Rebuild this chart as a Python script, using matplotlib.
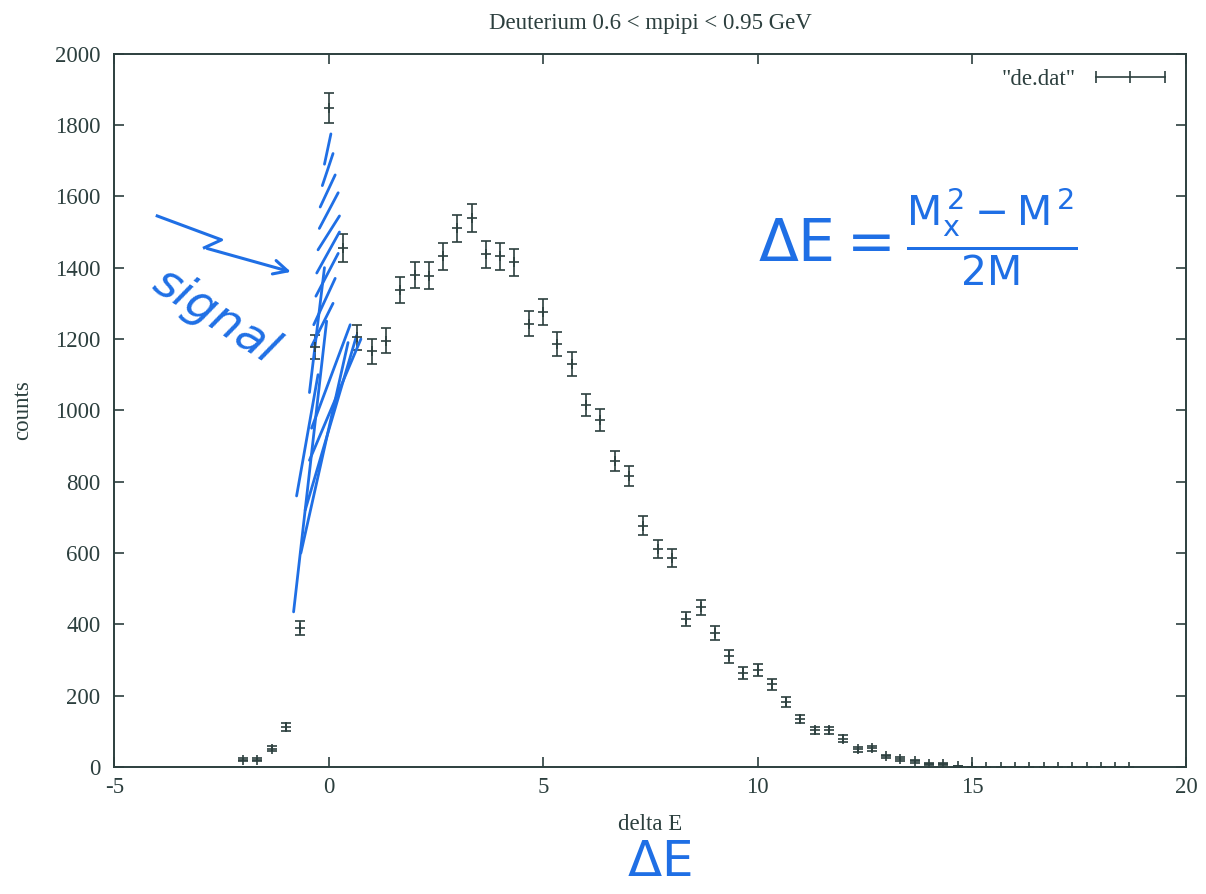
import numpy as np
import matplotlib.pyplot as plt
from matplotlib.lines import Line2D

# ============================================================
# Data read from "de.dat" (bin centre, counts, error)
# ============================================================
delta_e = [-2.00, -1.67, -1.33, -1.00, -0.67, -0.33, 0.00, 0.33, 0.67, 1.00,
           1.33, 1.67, 2.00, 2.33, 2.67, 3.00, 3.33, 3.67, 4.00, 4.33,
           4.67, 5.00, 5.33, 5.67, 6.00, 6.33, 6.67, 7.00, 7.33, 7.67,
           8.00, 8.33, 8.67, 9.00, 9.33, 9.67, 10.00, 10.33, 10.67, 11.00,
           11.33, 11.67, 12.00, 12.33, 12.67, 13.00, 13.33, 13.67, 14.00, 14.33,
           14.67, 15.00, 15.33, 15.67, 16.00, 16.33, 16.67, 17.00, 17.33, 17.67,
           18.00, 18.33, 18.67]
counts = [20, 20, 52, 112, 390, 1178, 1848, 1455, 1205, 1165,
          1195, 1338, 1380, 1378, 1432, 1510, 1540, 1437, 1432, 1415,
          1243, 1275, 1186, 1130, 1015, 972, 858, 816, 677, 611,
          586, 415, 448, 376, 310, 264, 272, 232, 182, 135,
          103, 103, 80, 50, 53, 30, 22, 16, 8, 8,
          2, 0, 0, 0, 0, 0, 0, 0, 0, 0,
          0, 0, 0]
errors = [4, 4, 7, 11, 20, 34, 43, 38, 35, 34,
          35, 37, 37, 37, 38, 39, 39, 38, 38, 38,
          35, 36, 34, 34, 32, 31, 29, 29, 26, 25,
          24, 20, 21, 19, 18, 16, 16, 15, 13, 12,
          10, 10, 9, 7, 7, 5, 5, 4, 3, 3,
          1, 0, 0, 0, 0, 0, 0, 0, 0, 0,
          0, 0, 0]

# Hand-drawn annotations (data coordinates)
hatch_strokes = [(-0.10, 1690, 0.05, 1775), (-0.15, 1630, 0.10, 1720),
                 (-0.20, 1570, 0.15, 1660), (-0.22, 1510, 0.22, 1610),
                 (-0.25, 1450, 0.25, 1545), (-0.28, 1385, 0.25, 1500),
                 (-0.30, 1320, 0.22, 1440), (-0.35, 1240, 0.15, 1370),
                 (-0.40, 1180, 0.10, 1300), (-0.82, 435, -0.05, 1250),
                 (-0.65, 600, 0.45, 1190), (-0.75, 760, -0.25, 1100),
                 (-0.55, 720, 0.65, 1210), (-0.45, 860, 0.75, 1200),
                 (-0.40, 950, 0.50, 1240), (-0.45, 1050, -0.10, 1400)]
arrow_x = [-4.0, -2.5, -2.9]
arrow_y = [1545, 1478, 1456]
arrow_tip = (-0.82, 1386)

ink = '#2c3f3e'
pen = '#1f6fe5'
fs = 16.5

plt.rcParams['font.family'] = ['Liberation Serif', 'DejaVu Serif']
plt.rcParams['mathtext.fontset'] = 'dejavusans'
plt.rcParams['axes.unicode_minus'] = False

fig = plt.figure(figsize=(12.06, 8.94), dpi=100)
ax = fig.add_axes([0.0948, 0.142, 0.889, 0.798])

ax.errorbar(delta_e, counts, yerr=errors, fmt='+', color=ink, ms=7, mew=1.2,
            elinewidth=1.2, capsize=3.5, capthick=1.2)

# ============================================================
# Axes formatting (gnuplot look)
# ============================================================
ax.set_xlim(-5, 20)
ax.set_ylim(0, 2000)
ax.set_xticks([-5, 0, 5, 10, 15, 20])
ax.set_yticks(np.arange(0, 2001, 200))
ax.tick_params(direction='in', length=7, width=1.2, top=True, right=True,
               labelsize=fs, colors=ink)
ax.tick_params(axis='y', pad=10)
ax.tick_params(axis='x', pad=7)
for sp in ax.spines.values():
    sp.set_color(ink)
    sp.set_linewidth(1.4)

ax.set_xlabel('delta E', fontsize=fs, color=ink, labelpad=12)
ax.set_ylabel('counts', fontsize=fs, color=ink, labelpad=16)
ax.set_title('Deuterium 0.6 < mpipi < 0.95 GeV', fontsize=fs, color=ink, pad=18)

handle = Line2D([], [], color=ink, lw=1.2, marker='|', ms=9, mew=1.2)
ax.legend([handle], ['"de.dat"'], loc='upper right', frameon=False, fontsize=fs,
          markerfirst=False, numpoints=3, handlelength=3.6, handletextpad=0.6,
          labelcolor=ink, borderaxespad=0.25)

# ============================================================
# Handwritten annotations
# ============================================================
for x0, y0, x1, y1 in hatch_strokes:
    ax.plot([x0, x1], [y0, y1], color=pen, lw=2.0, solid_capstyle='round')
ax.plot(arrow_x, arrow_y, color=pen, lw=2.2)
ax.annotate('', xy=arrow_tip, xytext=(arrow_x[-1], arrow_y[-1]),
            arrowprops=dict(arrowstyle='->', color=pen, lw=2.2, mutation_scale=25))
ax.text(-2.65, 1265, 'signal', color=pen, fontsize=34, rotation=-33,
        family='DejaVu Sans', style='italic', ha='center', va='center')
ax.text(10.0, 1485, r'$\mathrm{\Delta E} = \frac{\mathrm{M_x^{\,2} - M^{\,2}}}{\mathrm{2M}}$',
        color=pen, fontsize=42, ha='left', va='center')
fig.text(0.547, 0.008, r'$\mathrm{\Delta E}$', color=pen, fontsize=36,
         ha='center', va='bottom')

plt.savefig('out.png', dpi=100)
